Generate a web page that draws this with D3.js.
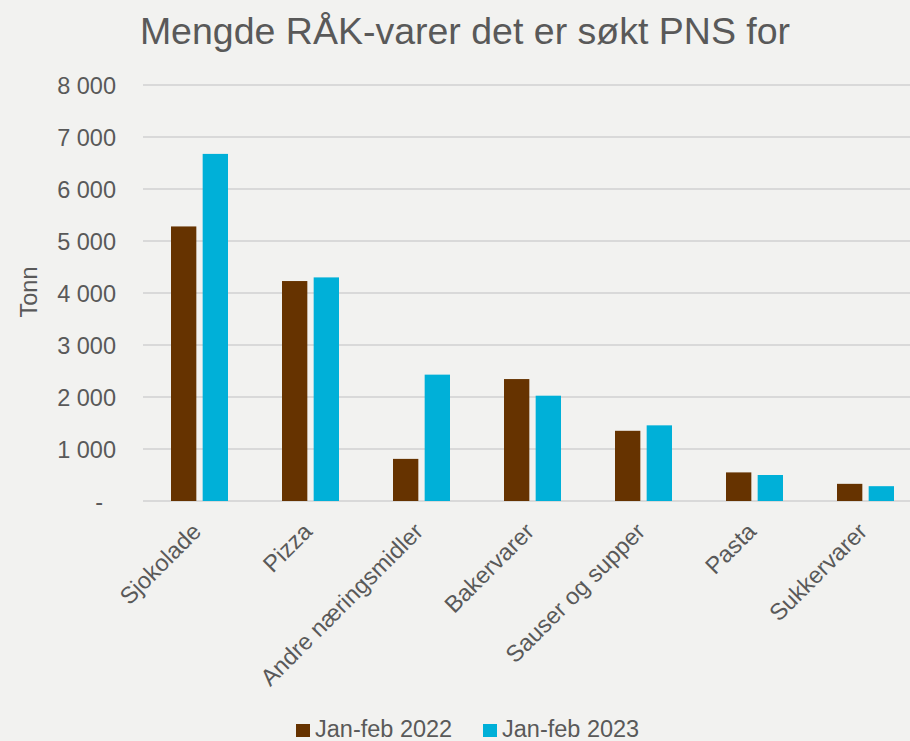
<!DOCTYPE html>
<html>
<head>
<meta charset="utf-8">
<script src="https://cdn.jsdelivr.net/npm/d3@7"></script>
<style>
  html, body { margin: 0; padding: 0; background: #f2f2f0; }
  svg { display: block; font-family: "Liberation Sans", Arial, sans-serif; }
</style>
</head>
<body>
<div id="chart"></div>
<script>
// chart data
var categories = ["Sjokolade", "Pizza", "Andre næringsmidler", "Bakervarer", "Sauser og supper", "Pasta", "Sukkervarer"];
var seriesNames = ["Jan-feb 2022", "Jan-feb 2023"];
var values2022 = [5280, 4230, 810, 2345, 1350, 550, 330];
var values2023 = [6675, 4300, 2430, 2025, 1455, 500, 285];
var yTicks = [0, 1000, 2000, 3000, 4000, 5000, 6000, 7000, 8000];
var colors = ["#663300", "#00b0d8"];

var width = 910, height = 741;
var textColor = "#595959";

var svg = d3.select("#chart").append("svg")
  .attr("width", width).attr("height", height);

svg.append("rect").attr("width", width).attr("height", height).attr("fill", "#f2f2f0");

// scales
var x = d3.scaleBand().domain(categories).range([143, 920]).paddingInner(0).paddingOuter(0);
var y = d3.scaleLinear().domain([0, 8000]).range([501, 85]);
var xSub = d3.scaleBand().domain(seriesNames).range([28, 85]).paddingInner(0.2);

// gridlines
svg.append("g").selectAll("line").data(yTicks).enter().append("line")
  .attr("x1", 143).attr("x2", width)
  .attr("y1", d => y(d)).attr("y2", d => y(d))
  .attr("stroke", "#d9d9d9").attr("stroke-width", 2);

// y axis labels
var yAxis = d3.axisLeft(y).tickValues(yTicks).tickSize(0).tickPadding(0)
  .tickFormat(d => d === 0 ? "-" : d3.format(",")(d).replace(/,/g, " "));
var gy = svg.append("g").attr("transform", "translate(116,0)").call(yAxis);
gy.select(".domain").remove();
gy.selectAll("text")
  .attr("fill", textColor).attr("font-size", 23.5)
  .attr("font-family", "Liberation Sans, Arial, sans-serif")
  .attr("dy", "0.35em")
  .attr("x", d => d === 0 ? -13 : 0);

// bars
var rows = categories.map((c, i) => ({ cat: c, vals: [values2022[i], values2023[i]] }));
var groups = svg.append("g").selectAll("g").data(rows).enter().append("g")
  .attr("transform", d => "translate(" + x(d.cat) + ",0)");
groups.selectAll("rect").data(d => d.vals.map((v, j) => ({ v: v, s: seriesNames[j], j: j })))
  .enter().append("rect")
  .attr("x", d => xSub(d.s))
  .attr("width", xSub.bandwidth())
  .attr("y", d => y(d.v))
  .attr("height", d => y(0) - y(d.v))
  .attr("fill", d => colors[d.j]);

// x labels
svg.append("g").selectAll("text").data(categories).enter().append("text")
  .attr("transform", d => "translate(" + (x(d) + x.bandwidth() / 2 + 4) + ",533) rotate(-45)")
  .attr("text-anchor", "end")
  .attr("fill", textColor).attr("font-size", 23.5)
  .text(d => d);

// y axis title
svg.append("text")
  .attr("transform", "translate(37,292) rotate(-90)")
  .attr("text-anchor", "middle")
  .attr("fill", textColor).attr("font-size", 23.5)
  .text("Tonn");

// title
svg.append("text")
  .attr("x", 465).attr("y", 44)
  .attr("text-anchor", "middle")
  .attr("fill", textColor).attr("font-size", 37.5)
  .text("Mengde RÅK-varer det er søkt PNS for");

// legend
var legend = svg.append("g").selectAll("g").data(seriesNames).enter().append("g")
  .attr("transform", (d, i) => "translate(" + (296 + i * 187) + ",724)");
legend.append("rect").attr("width", 14).attr("height", 13).attr("fill", (d, i) => colors[i]);
legend.append("text").attr("x", 19).attr("y", 13)
  .attr("fill", textColor).attr("font-size", 23.5)
  .text(d => d);
</script>
</body>
</html>
